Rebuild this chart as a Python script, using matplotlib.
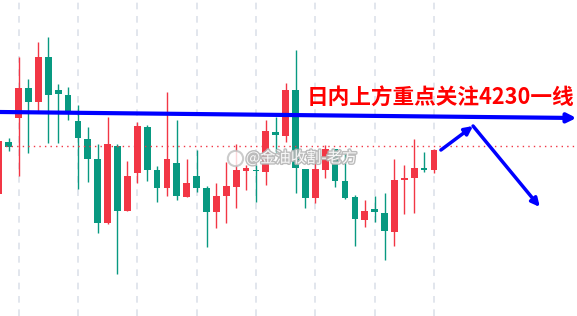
import numpy as np
import matplotlib.pyplot as plt
import matplotlib.patheffects as pe

plt.rcParams['font.family'] = ['Noto Sans CJK SC', 'DejaVu Sans']

# hourly candles (red = up, green = down)
opens = [4190.5, 4216.7, 4228.4, 4243.4, 4236.4, 4258.9, 4242.5, 4240.0, 4227.0, 4218.2,
         4207.9, 4175.9, 4214.7, 4182.2, 4201.2, 4224.2, 4202.5, 4193.4, 4205.9, 4189.2,
         4199.5, 4193.4, 4181.4, 4189.5, 4194.2, 4202.0, 4202.3, 4201.4, 4221.4, 4219.5,
         4242.5, 4202.9, 4188.7, 4202.5, 4213.0, 4197.0, 4188.9, 4177.5, 4182.9, 4180.9,
         4171.7, 4197.5, 4198.4, 4203.5, 4202.7]
highs = [4218.5, 4218.7, 4258.9, 4248.0, 4266.4, 4268.9, 4245.5, 4244.2, 4235.0, 4223.9,
         4215.5, 4228.9, 4215.5, 4207.2, 4226.7, 4225.0, 4204.7, 4241.7, 4227.5, 4207.9,
         4212.5, 4194.7, 4195.9, 4206.4, 4215.5, 4205.0, 4205.0, 4227.5, 4229.2, 4246.2,
         4262.5, 4202.9, 4207.5, 4215.0, 4213.0, 4210.9, 4190.0, 4187.5, 4189.5, 4191.2,
         4207.9, 4205.0, 4217.9, 4211.4, 4213.0]
lows = [4189.5, 4212.2, 4199.7, 4211.2, 4231.7, 4216.2, 4216.2, 4227.5, 4193.0, 4196.7,
        4170.9, 4175.5, 4150.5, 4182.2, 4196.2, 4197.0, 4186.7, 4189.7, 4187.5, 4189.2,
        4191.7, 4163.9, 4173.4, 4176.2, 4183.4, 4192.5, 4186.7, 4195.0, 4211.7, 4216.7,
        4191.2, 4183.4, 4186.2, 4198.4, 4194.2, 4187.9, 4164.7, 4174.2, 4176.7, 4157.5,
        4164.5, 4180.5, 4181.2, 4201.4, 4201.2]
closes = [4217.0, 4214.2, 4243.7, 4236.4, 4258.9, 4240.0, 4240.4, 4231.7, 4218.4, 4208.0,
          4176.2, 4215.4, 4182.2, 4199.7, 4224.5, 4202.5, 4193.7, 4207.9, 4189.5, 4196.2,
          4193.7, 4181.7, 4189.7, 4194.7, 4202.5, 4203.4, 4201.8, 4222.0, 4220.0, 4242.5,
          4203.4, 4188.4, 4202.9, 4213.0, 4197.0, 4188.4, 4178.0, 4182.0, 4181.4, 4172.2,
          4197.5, 4198.7, 4203.7, 4202.5, 4212.7]

# candle cut off at the right edge
edge_candle = {'x': 58.75, 'open': 4197.5, 'close': 4220.0}

key_level_left = 4231.5
key_level_right = 4228.5
last_price = 4214.5

# hand drawn forecast: up to the level, then down
path_x = [44.7, 47.95, 54.7]
path_y = [4212.5, 4224.5, 4184.0]

grid_x = [2, 8, 14, 20, 26, 32, 38, 44]

UP = '#F23645'
DOWN = '#089981'

fig = plt.figure(figsize=(5.77, 3.16), dpi=100)
ax = fig.add_axes([0, 0, 1, 1])
ax.set_xlim(0.12, 58.46)
ax.set_ylim(4129.5, 4287.5)
ax.axis('off')

for gx in grid_x:
    ax.axvline(gx, color='#dde1ea', linewidth=1.2, linestyle=(0, (4, 4)), zorder=0)

# candles
x = np.arange(len(opens))
for i in x:
    color = UP if closes[i] >= opens[i] else DOWN
    ax.vlines(i, lows[i], highs[i], color=color, linewidth=1, zorder=2)
    bottom = min(opens[i], closes[i])
    height = max(abs(closes[i] - opens[i]), 0.9)
    ax.bar(i, height, bottom=bottom, width=0.68, color=color, zorder=3)

ax.bar(edge_candle['x'], edge_candle['close'] - edge_candle['open'],
       bottom=edge_candle['open'], width=0.68, color='#F5A0A8', zorder=3)

# last price line
ax.plot([0.12, 58.2], [last_price, last_price], color='#F23645', linewidth=1,
        linestyle=(0, (1, 3)), zorder=4)

# watermark
ax.text(30.6, 4208.5, '@金油收割-老方', fontsize=11, color='white', alpha=0.9,
        ha='center', va='center', zorder=5,
        path_effects=[pe.withStroke(linewidth=2, foreground='#b5b5b5')])
ax.plot(23.9, 4208.5, marker='o', markersize=11, markerfacecolor='white',
        markeredgecolor='#c0c0c0', markeredgewidth=1.5, alpha=0.8, zorder=5)

# key level line with arrow
ax.annotate('', xy=(58.4, key_level_right), xytext=(0.12, key_level_left),
            arrowprops=dict(arrowstyle='-|>', color='#0000FF', linewidth=3,
                            mutation_scale=13, shrinkA=0, shrinkB=0), zorder=6)

# forecast arrows
for k in range(len(path_x) - 1):
    ax.annotate('', xy=(path_x[k + 1], path_y[k + 1]), xytext=(path_x[k], path_y[k]),
                arrowprops=dict(arrowstyle='-|>', color='#0000FF', linewidth=2.5,
                                mutation_scale=12, shrinkA=0, shrinkB=0), zorder=6)

ax.text(31.15, 4238.3, '日内上方重点关注4230一线', fontsize=15.6, fontweight='bold',
        color='#FF0000', ha='left', va='center', zorder=7)

plt.savefig('out.png', dpi=100)
